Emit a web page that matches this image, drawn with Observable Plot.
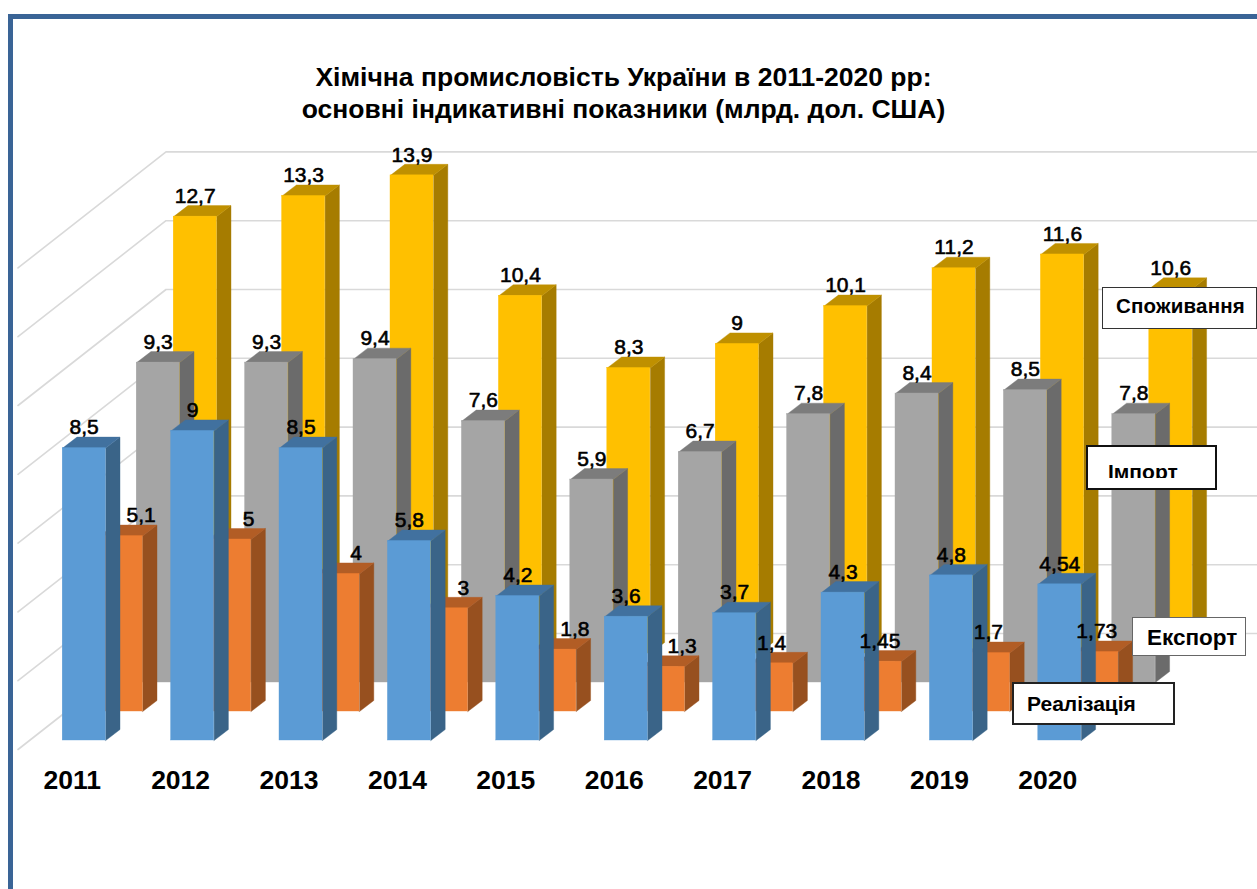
<!DOCTYPE html>
<html lang="uk">
<head>
<meta charset="utf-8">
<script src="https://cdn.jsdelivr.net/npm/d3@7"></script>
<script src="https://cdn.jsdelivr.net/npm/@observablehq/plot@0.6"></script>
<style>
html,body{margin:0;padding:0;background:#fff;overflow:hidden}
#page{position:relative;width:1257px;height:889px;overflow:hidden;font-family:"Liberation Sans",Arial,sans-serif;color:#000}
#frame{position:absolute;left:8px;top:14px;width:1400px;height:1000px;border:5px solid #3A6496;box-sizing:content-box;pointer-events:none}
#title{position:relative;height:140px;box-sizing:border-box;padding-top:61px;text-align:center;width:1247px;font-weight:700;font-size:26.5px;line-height:32px}
#chart svg{display:block}
.box{position:absolute;background:#fff;box-sizing:border-box;font-weight:700;overflow:hidden}
.box span{position:absolute;white-space:nowrap}
</style>
</head>
<body>
<div id="page">
  <div id="frame"></div>
  <div id="title">Хімічна промисловість України в 2011-2020 рр:<br>основні індикативні показники (млрд. дол. США)</div>
  <div id="chart"></div>
  <div class="box" style="left:1102px;top:287px;width:155px;height:42px;border:1px solid #333"><span style="left:13px;top:6px;font-size:20.5px;letter-spacing:.2px">Споживання</span></div>
  <div class="box" style="left:1086px;top:445px;width:131px;height:45px;border:2px solid #111"><div style="position:absolute;left:0;top:0;width:100%;height:31px;overflow:hidden"><span style="left:20px;top:13px;font-size:21px">Імпорт</span></div></div>
  <div class="box" style="left:1132px;top:617px;width:114px;height:39px;border:1.5px solid #666"><span style="left:14px;top:7px;font-size:22.5px">Експорт</span></div>
  <div class="box" style="left:1012px;top:682px;width:163px;height:43px;border:2px solid #222"><span style="left:13px;top:8px;font-size:21px">Реалізація</span></div>
</div>
<script>
const years = [2011, 2012, 2013, 2014, 2015, 2016, 2017, 2018, 2019, 2020];
const realizatsiya = [8.5, 9, 8.5, 5.8, 4.2, 3.6, 3.7, 4.3, 4.8, 4.54];
const eksport = [5.1, 5, 4, 3, 1.8, 1.3, 1.4, 1.45, 1.7, 1.73];
const import_ = [9.3, 9.3, 9.4, 7.6, 5.9, 6.7, 7.8, 8.4, 8.5, 7.8];
const spozhyvannya = [12.7, 13.3, 13.9, 10.4, 8.3, 9, 10.1, 11.2, 11.6, 10.6];
const gridValues = [0, 2, 4, 6, 8, 10, 12, 14];

// one pixel per unit of the two scales, and the oblique projection of the 3-D look
const pxX = 108.4, pxY = 34.4;
const barW = 43 / pxX;
const depthX = 37 / pxX, depthY = 29 / pxY;     // one series further back
const sideX = 14.3 / pxX, sideY = 11 / pxY;     // thickness of a bar
const xMin = -62.2 / pxX, xMax = (1257 - 62.2) / pxX;
const svgH = 749, zeroY = 600;
const yMax = zeroY / pxY, yMin = -(svgH - zeroY) / pxY;

// back to front
const series = [
  {name: "Споживання", values: spozhyvannya, depth: 3, front: "#FFC000", side: "#A67C00", top: "#BF9000"},
  {name: "Імпорт", values: import_, depth: 2, front: "#A5A5A5", side: "#6B6B6B", top: "#7C7C7C"},
  {name: "Експорт", values: eksport, depth: 1, front: "#ED7D31", side: "#97501F", top: "#B25D25"},
  {name: "Реалізація", values: realizatsiya, depth: 0, front: "#5B9BD5", side: "#3A6488", top: "#41719F"}
];
const exportLabelShift = [20, 19, 18, 17, 20, 19, 0, 0, 0, 0];

const marks = [];

// back wall and side wall grid
const wallFrontX = xMin + 17.5 / pxX, wallShift = -9 / pxY, wallDepth = 4;
const gridRows = gridValues.flatMap(v => [
  {v, x: wallFrontX, y: v + wallShift},
  {v, x: wallFrontX + wallDepth * depthX, y: v + wallShift + wallDepth * depthY},
  {v, x: xMax, y: v + wallShift + wallDepth * depthY}
]);
marks.push(Plot.line(gridRows, {x: "x", y: "y", z: "v", stroke: "#D9D9D9", strokeWidth: 1.6}));

for (const s of series) {
  const bars = s.values.map((v, i) => {
    const L = i + s.depth * depthX, R = L + barW, B = s.depth * depthY, T = v + B;
    return {i, v, L, R, B, T};
  });
  const sides = bars.flatMap(b => [
    {i: b.i, x: b.R, y: b.B},
    {i: b.i, x: b.R + sideX, y: b.B + sideY},
    {i: b.i, x: b.R + sideX, y: b.T + sideY},
    {i: b.i, x: b.R, y: b.T}
  ]);
  const tops = bars.flatMap(b => [
    {i: b.i, x: b.L, y: b.T},
    {i: b.i, x: b.L + sideX, y: b.T + sideY},
    {i: b.i, x: b.R + sideX, y: b.T + sideY},
    {i: b.i, x: b.R, y: b.T}
  ]);
  marks.push(
    Plot.line(sides, {x: "x", y: "y", z: "i", curve: "linear-closed", fill: s.side, stroke: s.side, strokeWidth: 0.4}),
    Plot.line(tops, {x: "x", y: "y", z: "i", curve: "linear-closed", fill: s.top, stroke: s.top, strokeWidth: 0.4}),
    Plot.rect(bars, {x1: "L", x2: "R", y1: "B", y2: "T", fill: s.front, stroke: s.front, strokeWidth: 0.4})
  );
}

// value labels above everything
for (const s of series) {
  const rows = s.values.map((v, i) => ({
    label: String(v).replace(".", ","),
    x: i + s.depth * depthX + barW / 2 + (s.name === "Експорт" ? exportLabelShift[i] / pxX : 0),
    y: v + s.depth * depthY + 20.5 / pxY
  }));
  marks.push(Plot.text(rows, {
    x: "x", y: "y", text: "label", fill: "#000", stroke: "#000", strokeWidth: 0.6,
    fontSize: 21, fontFamily: "Liberation Sans", textAnchor: "middle", lineAnchor: "middle"
  }));
}

// category labels
marks.push(Plot.text(years, {
  x: (d, i) => i + barW / 2 - 12 / pxX,
  y: () => -40 / pxY,
  text: d => String(d),
  fill: "#000", fontSize: 26.5, fontWeight: 700, fontFamily: "Liberation Sans",
  textAnchor: "middle", lineAnchor: "middle"
}));

const plot = Plot.plot({
  width: 1257,
  height: svgH,
  margin: 0,
  x: {type: "linear", domain: [xMin, xMax], range: [0, 1257], axis: null},
  y: {type: "linear", domain: [yMin, yMax], range: [svgH, 0], axis: null},
  style: {background: "transparent", overflow: "hidden"},
  marks
});
document.getElementById("chart").appendChild(plot);
</script>
</body>
</html>
